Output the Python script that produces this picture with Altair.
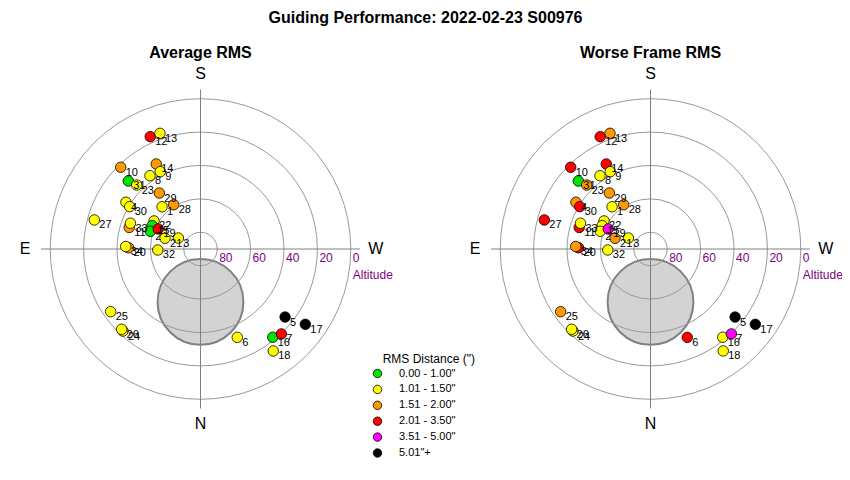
import altair as alt
import numpy as np
import pandas as pd

# ---------------- data ----------------
point_ids = [12, 13, 10, 14, 9, 8, 31, 23, 29, 28, 1, 4, 30, 27, 11, 33, 22, 15, 2, 19,
             21, 3, 20, 34, 32, 25, 24, 26, 6, 5, 17, 16, 7, 18]
azimuth = [155.9, 160.7, 135.7, 152.5, 152.5, 145.4, 133.3, 135.1, 143.7, 148.8, 137.7,
           122.1, 120.9, 105.3, 106.8, 110.2, 121.1, 115.8, 109.4, 115.4, 106.8, 116.4,
           91.0, 91.9, 88.7, 55.1, 43.4, 44.5, 337.4, 308.8, 305.7, 320.7, 316.4, 324.5]
altitude = [16.3, 16.6, 21.6, 32.6, 37.8, 36.7, 30.6, 35.9, 48.4, 59.0, 55.8, 37.3, 40.6,
            24.1, 45.4, 45.3, 57.5, 57.9, 58.1, 62.0, 67.8, 75.2, 46.9, 45.2, 64.4, 24.4,
            22.4, 22.6, 32.7, 25.0, 12.7, 21.7, 19.8, 15.0]
rms_average = [2.35, 1.42, 1.62, 1.55, 1.28, 1.21, 0.93, 1.37, 1.58, 1.66, 1.12, 1.33, 1.19,
               1.45, 1.53, 1.24, 1.09, 0.96, 0.88, 2.12, 1.31, 1.17, 1.57, 1.26, 1.14, 1.39,
               1.46, 1.35, 1.22, 5.84, 6.37, 0.97, 2.28, 1.41]
rms_worst = [3.12, 1.87, 2.64, 2.41, 1.46, 1.38, 0.99, 1.72, 1.95, 1.83, 1.44, 1.76, 2.23,
             2.57, 2.18, 1.49, 1.40, 1.27, 1.33, 3.86, 1.91, 1.36, 2.09, 1.68, 1.42, 1.79,
             1.47, 1.43, 2.47, 7.15, 8.02, 1.48, 4.21, 1.45]

bin_labels = ['0.00 - 1.00"', '1.01 - 1.50"', '1.51 - 2.00"', '2.01 - 3.50"',
              '3.51 - 5.00"', '5.01"+']
bin_edges = [1.005, 1.505, 2.005, 3.505, 5.005]
bin_colors = ["#00e600", "#ffff00", "#ff9900", "#ff0000", "#ff00ff", "#000000"]

altitude_rings = [0, 20, 40, 60, 80]
cardinal_labels = ["S", "N", "E", "W"]
cardinal_az = [180, 0, 90, 270]
panel_titles = ["Average RMS", "Worse Frame RMS"]
main_title = "Guiding Performance: 2022-02-23 S00976"

# obstruction (grey disc) centre altitude / azimuth and angular radius
obstruction_alt = [58.3]
obstruction_az = [0]
obstruction_radius = [25.7]

# ---------------- geometry ----------------
FONT = "Liberation Sans"
W, H = 834, 464
K = 1.67                    # pixels per degree of zenith distance
CX0, CY0 = 192.5, 241.0     # centre of left panel in view pixels
GAP = 450 / K               # distance between panel centres (degrees)
AXIS_EXT = 95.5
CARD_DIST = 105.0

xs = alt.Scale(domain=[-CX0 / K, (W - CX0) / K], nice=False, zero=False)
ys = alt.Scale(domain=[-(H - CY0) / K, CY0 / K], nice=False, zero=False)

POS_X = f"datum.panel * {GAP} - datum.dist * sin(datum.az * PI / 180)"
POS_Y = "-datum.dist * cos(datum.az * PI / 180)"


def X(f="px"):
    return alt.X(f"{f}:Q", scale=xs, axis=None)


def Y(f="py"):
    return alt.Y(f"{f}:Q", scale=ys, axis=None)


panels = [0, 1]

# ---------------- tables ----------------
rows = []
for p, rms in zip(panels, [rms_average, rms_worst]):
    for i, pid in enumerate(point_ids):
        rows.append(dict(panel=p, pid=str(pid), az=azimuth[i], alt=altitude[i], rms=rms[i]))
pts = pd.DataFrame(rows)
pts["cat"] = pd.cut(pts["rms"], bins=[-np.inf] + bin_edges + [np.inf],
                    labels=bin_labels).astype(str)

rings = pd.DataFrame([dict(panel=p, ring=r) for p in panels for r in altitude_rings])
cards = pd.DataFrame([dict(panel=p, lab=l, az=a) for p in panels
                      for l, a in zip(cardinal_labels, cardinal_az)])
obst = pd.DataFrame([dict(panel=p, alt=obstruction_alt[0], az=obstruction_az[0],
                          rad=obstruction_radius[0]) for p in panels])
ptitles = pd.DataFrame(dict(panel=panels, title=panel_titles))

# ---------------- layers ----------------
obst_layer = alt.Chart(obst).transform_calculate(
    dist="90 - datum.alt", px=POS_X, py=POS_Y,
    sz=f"pow(2 * datum.rad * {K}, 2)"
).mark_point(shape="circle", filled=True, fill="#d3d3d3", stroke="#808080",
             strokeWidth=2, opacity=1).encode(
    x=X(), y=Y(), size=alt.Size("sz:Q", scale=None))

ring_layer = alt.Chart(rings).transform_calculate(
    px=f"datum.panel * {GAP}", py="0",
    sz=f"pow(2 * (90 - datum.ring) * {K}, 2)"
).mark_point(shape="circle", filled=False, color="#999999", strokeWidth=1,
             opacity=1).encode(x=X(), y=Y(), size=alt.Size("sz:Q", scale=None))

hrule = alt.Chart(ptitles).transform_calculate(
    px=f"datum.panel * {GAP} - {AXIS_EXT}", px2=f"datum.panel * {GAP} + {AXIS_EXT}", py="0"
).mark_rule(color="#808080", strokeWidth=1).encode(x=X(), x2="px2:Q", y=Y())

vrule = alt.Chart(ptitles).transform_calculate(
    px=f"datum.panel * {GAP}", py=f"-{AXIS_EXT}", py2=f"{AXIS_EXT}"
).mark_rule(color="#808080", strokeWidth=1).encode(x=X(), y=Y(), y2="py2:Q")

pt_layer = alt.Chart(pts).transform_calculate(
    dist="90 - datum.alt", px=POS_X, py=POS_Y
).mark_point(shape="circle", filled=True, stroke="black", strokeWidth=0.8,
             opacity=1, size=110).encode(
    x=X(), y=Y(),
    fill=alt.Fill("cat:N", scale=alt.Scale(domain=bin_labels, range=bin_colors),
                  legend=alt.Legend(title=None, orient="none", legendX=364, legendY=360,
                                    symbolType="circle", symbolSize=72,
                                    symbolStrokeColor="black", symbolStrokeWidth=0.8,
                                    symbolOpacity=1, labelFont=FONT, labelFontSize=11,
                                    labelColor="black", labelOffset=16, rowPadding=2.9,
                                    padding=0)))

lab_layer = alt.Chart(pts).transform_calculate(
    dist="90 - datum.alt", px=POS_X, py=POS_Y
).mark_text(align="left", baseline="middle", dx=5, dy=5.5, font=FONT, fontSize=11,
            color="black").encode(x=X(), y=Y(), text="pid:N")

card_layer = alt.Chart(cards).transform_calculate(
    dist=f"{CARD_DIST}", px=POS_X, py=POS_Y
).mark_text(align="center", baseline="middle", font=FONT, fontSize=16,
            color="black").encode(x=X(), y=Y(), text="lab:N")

ringlab_layer = alt.Chart(rings).transform_calculate(
    px=f"datum.panel * {GAP} + (90 - datum.ring)", py="0"
).mark_text(align="left", baseline="middle", dx=2, dy=9, font=FONT, fontSize=12,
            color="#800080").encode(x=X(), y=Y(), text="ring:N")

altlab_layer = alt.Chart(ptitles).transform_calculate(
    px=f"datum.panel * {GAP} + 90", py="0", t="'Altitude'"
).mark_text(align="left", baseline="middle", dx=2, dy=26, font=FONT, fontSize=12,
            color="#800080").encode(x=X(), y=Y(), text="t:N")

ptitle_layer = alt.Chart(ptitles).transform_calculate(
    px=f"datum.panel * {GAP}", py="117.4"
).mark_text(align="center", baseline="middle", font=FONT, fontSize=16,
            fontWeight="bold", color="black").encode(x=X(), y=Y(), text="title:N")

mtitle_layer = alt.Chart(pd.DataFrame(dict(title=[main_title]))).transform_calculate(
    px=f"{GAP} / 2", py="138.3"
).mark_text(align="center", baseline="middle", font=FONT, fontSize=16,
            fontWeight="bold", color="black").encode(x=X(), y=Y(), text="title:N")

legtitle_layer = alt.Chart(pd.DataFrame(dict(title=['RMS Distance (")']))).mark_text(
    align="center", baseline="middle", font=FONT, fontSize=12, color="black"
).encode(x=alt.value(420.8), y=alt.value(351), text="title:N")

chart = alt.layer(
    obst_layer, ring_layer, hrule, vrule, pt_layer, lab_layer, card_layer,
    ringlab_layer, altlab_layer, ptitle_layer, mtitle_layer, legtitle_layer
).properties(
    width=W, height=H, padding=0, background="white",
    autosize=alt.AutoSizeParams(type="none")
).configure_view(strokeWidth=0).configure_text(font=FONT)

chart.save("out.html", embed_options={"renderer": "svg", "actions": False})
